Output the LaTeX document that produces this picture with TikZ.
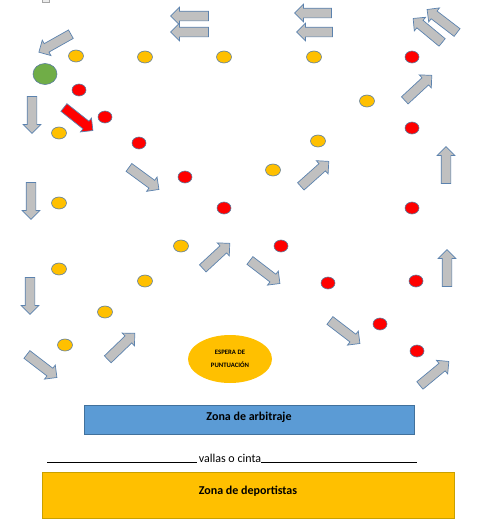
\documentclass[tikz,border=0pt]{standalone}
\usepackage{fontspec}
\setmainfont{Carlito}
\usetikzlibrary{shapes.arrows,shapes.geometric,calc}
\definecolor{gold}{HTML}{FFC000}
\definecolor{golddark}{HTML}{C9A000}
\definecolor{dotline}{HTML}{5B7DA0}
\definecolor{arrfill}{HTML}{C0C0C0}
\definecolor{arrline}{HTML}{5B82AE}
\definecolor{blueb}{HTML}{5B9BD5}
\definecolor{bluebline}{HTML}{41719C}
\definecolor{startgreen}{HTML}{70AD47}
\tikzset{
  ydot/.style={ellipse, fill=gold, draw=dotline, line width=0.6pt, minimum width=15pt, minimum height=12pt, inner sep=0pt},
  rdot/.style={ellipse, fill=red, draw=dotline, line width=0.6pt, minimum width=14pt, minimum height=12pt, inner sep=0pt},
  barrow/.style={single arrow, draw=arrline, fill=arrfill, line width=0.7pt, inner xsep=0pt, inner ysep=4.5pt, single arrow head extend=4pt},
  redarrow/.style={fill=red},
  zonetext/.style={font=\bfseries\fontsize{12}{14}\selectfont},
  esptext/.style={font=\bfseries\fontsize{6.7}{7}\selectfont, inner sep=0pt}
}
\newcommand\blockarr[4][]{%
  \path let \p1=(#3), \p2=(#4), \n1={atan2(\y2-\y1,\x2-\x1)}, \n2={veclen(\x2-\x1,\y2-\y1)} in
    node[barrow,#1,rotate=\n1,minimum height=\n2] (#2) at ($(#3)!0.5!(#4)$) {};}
\begin{document}
\begin{tikzpicture}[x=1pt,y=-1pt]
\useasboundingbox (0,0) rectangle (500,531);
% small cut-off element at the top
\node[draw=gray!70, fill=gray!15, minimum width=7pt, minimum height=4pt, inner sep=0pt] (topbit) at (45.5,0) {};
% green start
\node[ellipse, fill=startgreen, draw=dotline, line width=0.6pt, minimum width=24pt, minimum height=21pt, inner sep=0pt] (start) at (45,74) {};
% yellow dots
\node[ydot] (y1) at (76,56) {};
\node[ydot] (y2) at (145,57) {};
\node[ydot] (y3) at (224,57) {};
\node[ydot] (y4) at (314,57) {};
\node[ydot] (y5) at (59,133) {};
\node[ydot] (y6) at (367,101) {};
\node[ydot] (y7) at (318,141) {};
\node[ydot] (y8) at (273,170) {};
\node[ydot] (y9) at (59,203) {};
\node[ydot] (y10) at (59,269) {};
\node[ydot] (y11) at (181,246) {};
\node[ydot] (y12) at (145,281) {};
\node[ydot] (y13) at (105,312) {};
\node[ydot] (y14) at (65,345) {};
% red dots
\node[rdot] (r1) at (79,90) {};
\node[rdot] (r2) at (105,117) {};
\node[rdot] (r3) at (139,143) {};
\node[rdot] (r4) at (185,177) {};
\node[rdot] (r5) at (224,208) {};
\node[rdot] (r6) at (412,57) {};
\node[rdot] (r7) at (412,128) {};
\node[rdot] (r8) at (412,208) {};
\node[rdot] (r9) at (281,246) {};
\node[rdot] (r10) at (328,283) {};
\node[rdot] (r11) at (416,281) {};
\node[rdot] (r12) at (380,324) {};
\node[rdot] (r13) at (417,351) {};
% arrows (from tail to tip)
\blockarr{a1}{73,33}{41,51}
\blockarr{a2}{211,16}{173,16}
\blockarr{a3}{211,32}{173,32}
\blockarr{a4}{334,13}{297,13}
\blockarr{a5}{335,32}{299,32}
\blockarr{a6}{444,44}{415,20}
\blockarr{a7}{459,34}{429,11}
\blockarr{a8}{403,102}{430,77}
\blockarr{a9}{32,94}{32,131}
\blockarr[redarrow]{a10}{62,106}{91,129}
\blockarr{a11}{127,166}{157,188}
\blockarr{a12}{31,180}{31,217}
\blockarr{a13}{30,275}{30,312}
\blockarr{a14}{25,353}{55,376}
\blockarr{a15}{106,361}{133,335}
\blockarr{a16}{201,270}{228,245}
\blockarr{a17}{299,188}{327,163}
\blockarr{a18}{248,259}{278,282}
\blockarr{a19}{328,319}{358,342}
\blockarr{a20}{418,387}{447,363}
\blockarr{a21}{446,186}{446,149}
\blockarr{a22}{447,289}{447,252}
% waiting oval
\node[ellipse, fill=gold, minimum width=84pt, minimum height=48pt, inner sep=0pt] (espera) at (230,359) {};
\node[esptext] (esp1) at (230,352) {ESPERA DE};
\node[esptext] (esp2) at (230,365) {PUNTUACIÓN};
% referee zone
\node[draw=bluebline, fill=blueb, line width=0.8pt, minimum width=330pt, minimum height=29pt, inner sep=0pt] (arb) at (249,419.5) {};
\node[zonetext] (arbt) at (249,417) {Zona de arbitraje};
% fence line
\node[font=\fontsize{12}{14}\selectfont, inner sep=0pt, anchor=base] (valla) at (230,462) {vallas o cinta};
\coordinate (ul1) at (47,462);
\coordinate (ul2) at (417,462);
\draw[line width=0.6pt] (ul1) -- ([xshift=-2pt]ul1 -| valla.west);
\draw[line width=0.6pt] (ul2 -| valla.east) -- (ul2);
% athletes zone
\node[draw=golddark, fill=gold, line width=0.8pt, minimum width=412pt, minimum height=46pt, inner sep=0pt] (dep) at (248,495) {};
\node[zonetext] (dept) at (248,491) {Zona de deportistas};
\end{tikzpicture}
\end{document}
